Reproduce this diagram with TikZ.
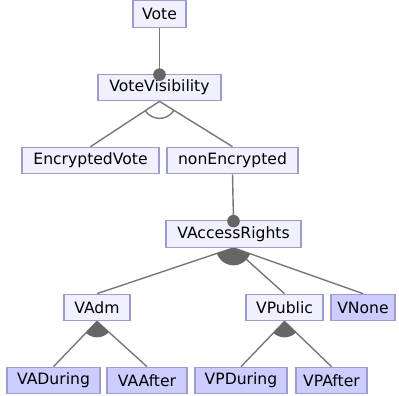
\documentclass[tikz,border=0pt]{standalone}
\usepackage{fontspec}
\setmainfont{DejaVu Sans}
\pgfdeclarelayer{background}
\pgfdeclarelayer{front}
\pgfsetlayers{background,main,front}
\definecolor{edgegray}{HTML}{777777}
\definecolor{dotgray}{HTML}{666666}
\definecolor{boxline}{HTML}{9C9CCE}
\definecolor{lightfill}{HTML}{F0F0FF}
\definecolor{leaffill}{HTML}{CCCCFF}
\tikzset{
  feat/.style={draw=boxline, line width=1.2pt, fill=lightfill, inner sep=0pt,
    minimum height=26.5pt, font=\fontsize{15.6}{18}\selectfont, text=black},
  leaf/.style={feat, fill=leaffill},
  conn/.style={draw=edgegray, line width=1.4pt},
  dot/.style={fill=dotgray},
}
\begin{document}
\begin{tikzpicture}[x=1pt,y=-1pt]
\useasboundingbox (0,0) rectangle (399,396);
% nodes
\node[feat, minimum width=53pt]  (vote) at (159.5,14) {Vote};
\node[feat, minimum width=123pt] (vis)  at (159.5,87.5) {VoteVisibility};
\node[feat, minimum width=137pt] (enc)  at (90.5,160.5) {EncryptedVote};
\node[feat, minimum width=131pt] (non)  at (232.5,160.5) {nonEncrypted};
\node[feat, minimum width=135pt] (acc)  at (233.5,234) {VAccessRights};
\node[feat, minimum width=66pt]  (adm)  at (97,307.5) {VAdm};
\node[feat, minimum width=77pt]  (pub)  at (284.5,307.5) {VPublic};
\node[leaf, minimum width=64pt]  (vnone) at (363,307.5) {VNone};
\node[leaf, minimum width=93pt]  (vad)  at (53.5,380.5) {VADuring};
\node[leaf, minimum width=80pt]  (vaa)  at (147,380.5) {VAAfter};
\node[leaf, minimum width=92pt]  (vpd)  at (241,380.5) {VPDuring};
\node[leaf, minimum width=71pt]  (vpa)  at (331.5,380.5) {VPAfter};
\begin{pgfonlayer}{background}
  % mandatory links
  \draw[conn] (vote.south) -- (vis.north);
  \draw[conn] (non.south) -- (acc.north);
  % alternative group
  \draw[conn] (vis.south) -- (enc.north);
  \draw[conn] (vis.south) -- (non.north);
  \begin{scope}
    \clip (vis.south) -- (enc.north) -- (non.north) -- cycle;
    \draw[edgegray, line width=1.4pt] (vis.south) circle (17);
  \end{scope}
  % or group VAccessRights
  \draw[conn] (acc.south) -- (adm.north);
  \draw[conn] (acc.south) -- (pub.north);
  \draw[conn] (acc.south) -- (vnone.north);
  \begin{scope}
    \clip (acc.south) -- (adm.north) -- (vnone.north) -- cycle;
    \fill[dotgray] (acc.south) circle (17.5);
  \end{scope}
  % or group VAdm
  \draw[conn] (adm.south) -- (vad.north);
  \draw[conn] (adm.south) -- (vaa.north);
  \begin{scope}
    \clip (adm.south) -- (vad.north) -- (vaa.north) -- cycle;
    \fill[dotgray] (adm.south) circle (16);
  \end{scope}
  % or group VPublic
  \draw[conn] (pub.south) -- (vpd.north);
  \draw[conn] (pub.south) -- (vpa.north);
  \begin{scope}
    \clip (pub.south) -- (vpd.north) -- (vpa.north) -- cycle;
    \fill[dotgray] (pub.south) circle (16);
  \end{scope}
\end{pgfonlayer}
\begin{pgfonlayer}{front}
  \fill[dot] ([yshift=-1pt]vis.north) circle (6.3);
  \fill[dot] ([yshift=-1pt]acc.north) circle (6.3);
\end{pgfonlayer}
\end{tikzpicture}
\end{document}
